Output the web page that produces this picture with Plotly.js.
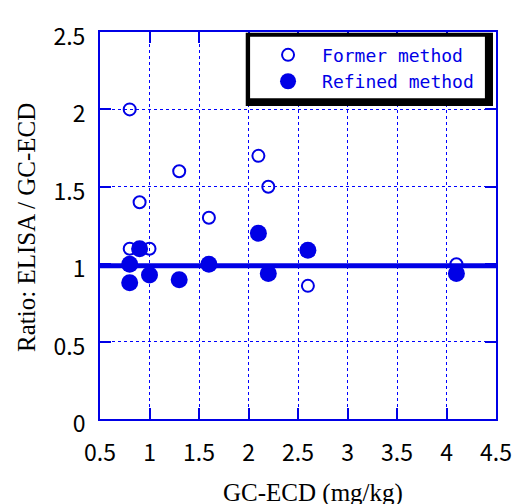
<!DOCTYPE html>
<html>
<head>
<meta charset="utf-8">
<script src="https://cdn.plot.ly/plotly-3.0.1.min.js"></script>
<style>html,body{margin:0;padding:0;background:#fff;}#chart{width:516px;height:504px;}</style>
</head>
<body>
<div id="chart"></div>
<script>
// Data
const formerX = [0.8, 0.9, 1.3, 1.6, 2.1, 2.2, 0.8, 1.0, 2.6, 4.1];
const formerY = [2.0, 1.4, 1.6, 1.3, 1.7, 1.5, 1.1, 1.1, 0.86, 1.0];
const refinedX = [0.8, 0.8, 0.9, 1.0, 1.3, 1.6, 2.1, 2.2, 2.6, 4.1];
const refinedY = [1.0, 0.88, 1.1, 0.93, 0.9, 1.0, 1.2, 0.94, 1.09, 0.94];
const refLineX = [0.5, 4.5];
const refLineY = [0.99, 0.99];
const xTickVals = [0.5, 1, 1.5, 2, 2.5, 3, 3.5, 4, 4.5];
const xTickText = ["0.5", "1", "1.5", "2", "2.5", "3", "3.5", "4", "4.5"];
const yTickVals = [0, 0.5, 1, 1.5, 2, 2.5];
const yTickText = ["0", "0.5", "1", "1.5", "2", "2.5"];
const seriesNames = ["Former method", "Refined method"];
const xTitle = "GC-ECD (mg/kg)";
const yTitle = "Ratio: ELISA / GC-ECD";

const BLUE = "#0000e6";

const traces = [
  {x: refLineX, y: refLineY, mode: "lines", line: {color: BLUE, width: 5}, showlegend: false, hoverinfo: "skip"},
  {x: formerX, y: formerY, mode: "markers", name: seriesNames[0],
   marker: {symbol: "circle-open", size: 12, color: BLUE, line: {width: 2, color: BLUE}}},
  {x: refinedX, y: refinedY, mode: "markers", name: seriesNames[1],
   marker: {symbol: "circle", size: 17, color: BLUE}}
];

function axisCommon() {
  return {
    showline: true, linecolor: BLUE, linewidth: 2, mirror: "ticks",
    ticks: "inside", ticklen: 11, tickwidth: 2, tickcolor: BLUE,
    showgrid: true, gridcolor: "#0000ff", gridwidth: 1, griddash: "dot",
    zeroline: false, tickmode: "array",
    tickfont: {family: "Noto Sans CJK JP", size: 23, color: "#000"}
  };
}

const layout = {
  width: 516, height: 504,
  margin: {l: 100, r: 20, t: 32, b: 85},
  paper_bgcolor: "#fff", plot_bgcolor: "#fff",
  showlegend: true,
  xaxis: Object.assign(axisCommon(), {range: [0.5, 4.5], tickvals: xTickVals, ticktext: xTickText, ticklabelstandoff: 12}),
  yaxis: Object.assign(axisCommon(), {range: [0, 2.5], tickvals: yTickVals, ticktext: yTickText, ticklabelstandoff: 8, ticklabelshift: 5}),
  legend: {
    x: 0.389, y: 0.988, xanchor: "left", yanchor: "top",
    bgcolor: "rgba(0,0,0,0)", borderwidth: 0,
    font: {family: "DejaVu Sans Mono", size: 18, color: BLUE},
    itemwidth: 58
  },
  shapes: [
    {type: "rect", xref: "paper", yref: "paper", x0: 0.368, x1: 0.9924, y0: 0.809, y1: 0.998,
     fillcolor: "#000", line: {width: 0}, layer: "above"},
    {type: "rect", xref: "paper", yref: "paper", x0: 0.379, x1: 0.972, y0: 0.829, y1: 0.988,
     fillcolor: "#fff", line: {width: 0}, layer: "above"}
  ],
  annotations: [
    {text: xTitle, xref: "paper", yref: "paper", x: 0.538, y: -0.191, xanchor: "center", yanchor: "middle",
     showarrow: false, font: {family: "Liberation Serif", size: 25, color: "#000"}},
    {text: yTitle, xref: "paper", yref: "paper", x: -0.184, y: 0.494, xanchor: "center", yanchor: "middle",
     textangle: -90, showarrow: false, font: {family: "Liberation Serif", size: 25, color: "#000"}}
  ]
};

Plotly.newPlot("chart", traces, layout, {displayModeBar: false, staticPlot: true});
</script>
</body>
</html>
